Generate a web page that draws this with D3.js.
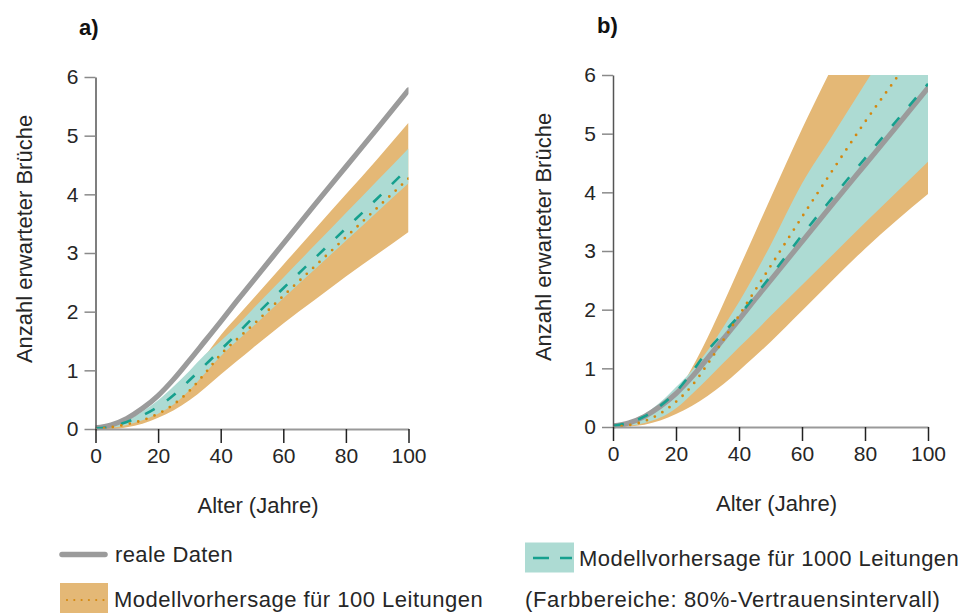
<!DOCTYPE html>
<html>
<head>
<meta charset="utf-8">
<script src="https://cdn.jsdelivr.net/npm/d3@7"></script>
<style>
  html, body { margin: 0; padding: 0; background: #fff; }
  svg { display: block; font-family: "Liberation Sans", Arial, sans-serif; }
</style>
</head>
<body>
<svg id="chart" width="965" height="613"></svg>
<script>
// ---------- data ----------
const ages = [0, 5, 10, 15, 20, 25, 30, 35, 40, 45, 50, 60, 70, 80, 90, 100];
const xTicks = [0, 20, 40, 60, 80, 100];
const yTicks = [0, 1, 2, 3, 4, 5, 6];

// real data (same in both panels)
const realData = [0.02, 0.07, 0.18, 0.35, 0.57, 0.85, 1.17, 1.5, 1.83, 2.17, 2.5, 3.16, 3.82, 4.47, 5.12, 5.78];

// panel a
const a1000Mean = [0.01, 0.04, 0.12, 0.23, 0.38, 0.58, 0.83, 1.09, 1.35, 1.61, 1.88, 2.4, 2.91, 3.42, 3.93, 4.45];
const a1000Lo   = [0, 0.02, 0.07, 0.15, 0.26, 0.42, 0.66, 0.95, 1.24, 1.49, 1.73, 2.23, 2.72, 3.21, 3.7, 4.19];
const a1000Hi   = [0.02, 0.06, 0.15, 0.3, 0.49, 0.73, 0.99, 1.27, 1.5, 1.75, 2.03, 2.58, 3.13, 3.68, 4.23, 4.78];
const a100Mean  = [0, 0.03, 0.08, 0.15, 0.26, 0.42, 0.65, 0.95, 1.27, 1.52, 1.76, 2.27, 2.77, 3.27, 3.77, 4.27];
const a100Lo    = [0, 0, 0.03, 0.09, 0.19, 0.32, 0.49, 0.7, 0.93, 1.15, 1.37, 1.8, 2.2, 2.6, 2.98, 3.36];
const a100Hi    = [0.01, 0.04, 0.12, 0.25, 0.44, 0.68, 0.95, 1.25, 1.6, 1.9, 2.2, 2.8, 3.4, 4.0, 4.6, 5.22];

// panel b
const b1000Mean = [0.02, 0.07, 0.18, 0.36, 0.6, 0.93, 1.3, 1.6, 1.9, 2.23, 2.57, 3.27, 3.93, 4.58, 5.22, 5.85];
const b1000Lo   = [0, 0.02, 0.07, 0.16, 0.32, 0.56, 0.82, 1.09, 1.36, 1.62, 1.89, 2.42, 2.95, 3.48, 4.0, 4.52];
const b1000Hi   = [0.03, 0.09, 0.22, 0.42, 0.68, 0.96, 1.3, 1.7, 2.13, 2.6, 3.1, 4.15, 5.0, 5.85, 6.7, 7.5];
const b100Mean  = [0, 0.03, 0.1, 0.23, 0.43, 0.7, 1.07, 1.48, 1.9, 2.32, 2.74, 3.58, 4.4, 5.2, 5.95, 6.7];
const b100Lo    = [0, 0.01, 0.04, 0.11, 0.22, 0.36, 0.53, 0.73, 0.96, 1.2, 1.45, 1.98, 2.52, 3.04, 3.52, 3.97];
const b100Hi    = [0.02, 0.06, 0.16, 0.32, 0.56, 1.0, 1.52, 2.1, 2.7, 3.3, 3.9, 5.08, 6.18, 7.25, 8.25, 9.2];

const panelLabels = ["a)", "b)"];
const xTitle = "Alter (Jahre)";
const yTitle = "Anzahl erwarteter Brüche";
const legendTexts = ["reale Daten", "Modellvorhersage für 100 Leitungen",
                     "Modellvorhersage für 1000 Leitungen", "(Farbbereiche: 80%-Vertrauensintervall)"];

// ---------- styles ----------
const C = {
  orange: "#E4B876",
  teal: "#ADDBD3",
  gray: "#9B9B9B",
  dash: "#16A08E",
  dot: "#D4880F",
  text: "#262626"
};

const svg = d3.select("#chart");

const panels = [
  { id: "a", label: panelLabels[0], x0: 95.5, x1: 408.5, yTop: 77, yBot: 429, labelX: 79, labelY: 35,
    ytX: 32, real: realData, m1000: a1000Mean, lo1000: a1000Lo, hi1000: a1000Hi,
    m100: a100Mean, lo100: a100Lo, hi100: a100Hi },
  { id: "b", label: panelLabels[1], x0: 613, x1: 928, yTop: 75, yBot: 427, labelX: 597, labelY: 33,
    ytX: 551, real: realData, m1000: b1000Mean, lo1000: b1000Lo, hi1000: b1000Hi,
    m100: b100Mean, lo100: b100Lo, hi100: b100Hi }
];

panels.forEach(p => {
  const x = d3.scaleLinear().domain([0, 100]).range([p.x0, p.x1]);
  const y = d3.scaleLinear().domain([0, 6]).range([p.yBot, p.yTop]);
  const g = svg.append("g");

  g.append("clipPath").attr("id", "clip-" + p.id)
    .append("rect")
    .attr("x", x(0)).attr("y", y(6))
    .attr("width", x(100) - x(0)).attr("height", y(0) - y(6) + 10);

  const plot = g.append("g").attr("clip-path", `url(#clip-${p.id})`);

  const area = (lo, hi) => d3.area()
    .x((d, i) => x(ages[i]))
    .y0((d, i) => y(lo[i]))
    .y1((d, i) => y(hi[i]))
    .curve(d3.curveMonotoneX)(ages);

  const line = (vals) => d3.line()
    .x((d, i) => x(ages[i]))
    .y((d, i) => y(vals[i]))
    .curve(d3.curveMonotoneX)(ages);

  plot.append("path").attr("d", area(p.lo100, p.hi100)).attr("fill", C.orange);
  plot.append("path").attr("d", area(p.lo1000, p.hi1000)).attr("fill", C.teal);

  plot.append("path").attr("d", line(p.real))
    .attr("fill", "none").attr("stroke", C.gray).attr("stroke-width", 5.2)
    .attr("stroke-linecap", "round");

  plot.append("path").attr("d", line(p.m1000))
    .attr("fill", "none").attr("stroke", C.dash).attr("stroke-width", 2.6)
    .attr("stroke-dasharray", "11,15");

  plot.append("path").attr("d", line(p.m100))
    .attr("fill", "none").attr("stroke", C.dot).attr("stroke-width", 2.8)
    .attr("stroke-linecap", "round")
    .attr("stroke-dasharray", "0,8.7");

  // y axis
  const yAx = g.append("g").attr("transform", `translate(${x(0)},0)`)
    .call(d3.axisLeft(y).tickValues(yTicks).tickFormat(d3.format("d"))
      .tickSize(11).tickSizeOuter(0).tickPadding(6));
  yAx.select(".domain").attr("stroke", "#555").attr("stroke-width", 1.5);
  yAx.selectAll(".tick line").attr("stroke", "#8a8a8a").attr("stroke-width", 1.5);
  yAx.selectAll(".tick text").attr("fill", C.text).style("font-size", "21px")
    .style("font-family", "'Liberation Sans', Arial, sans-serif");

  // x axis
  const xAx = g.append("g").attr("transform", `translate(0,${y(0)})`)
    .call(d3.axisBottom(x).tickValues(xTicks).tickFormat(d3.format("d"))
      .tickSize(14).tickSizeOuter(0).tickPadding(5));
  xAx.select(".domain").attr("stroke", "#999").attr("stroke-width", 2);
  xAx.selectAll(".tick line").attr("stroke", "#222").attr("stroke-width", 1.5);
  xAx.selectAll(".tick text").attr("fill", C.text).style("font-size", "21px")
    .style("font-family", "'Liberation Sans', Arial, sans-serif");

  // titles
  g.append("text").attr("x", (p.x0 + p.x1) / 2 + 6).attr("y", p.yBot + 84)
    .attr("text-anchor", "middle").attr("fill", C.text).style("font-size", "22px")
    .text(xTitle);
  g.append("text")
    .attr("transform", `translate(${p.ytX},${(p.yTop + p.yBot) / 2 - 14}) rotate(-90)`)
    .attr("text-anchor", "middle").attr("fill", C.text).style("font-size", "22px")
    .text(yTitle);
  g.append("text").attr("x", p.labelX).attr("y", p.labelY)
    .attr("fill", "#111").style("font-size", "22px").style("font-weight", "bold")
    .text(p.label);
});

// ---------- legend ----------
const lg = svg.append("g");
// real data
lg.append("line").attr("x1", 62).attr("x2", 105).attr("y1", 554.5).attr("y2", 554.5)
  .attr("stroke", C.gray).attr("stroke-width", 5.5).attr("stroke-linecap", "round");
lg.append("text").attr("x", 115).attr("y", 562).attr("fill", C.text)
  .style("font-size", "22px").style("letter-spacing", "0.4px").text(legendTexts[0]);
// 100 lines
lg.append("rect").attr("x", 60).attr("y", 583).attr("width", 48).attr("height", 30).attr("fill", C.orange);
lg.append("line").attr("x1", 67).attr("x2", 104).attr("y1", 600).attr("y2", 600)
  .attr("stroke", C.dot).attr("stroke-width", 2.2).attr("stroke-linecap", "round")
  .attr("stroke-dasharray", "0,7.3");
lg.append("text").attr("x", 114).attr("y", 607).attr("fill", C.text)
  .style("font-size", "22px").style("letter-spacing", "0.5px").text(legendTexts[1]);
// 1000 lines
lg.append("rect").attr("x", 525).attr("y", 542.5).attr("width", 49).attr("height", 30).attr("fill", C.teal);
lg.append("line").attr("x1", 533).attr("x2", 572).attr("y1", 558).attr("y2", 558)
  .attr("stroke", C.dash).attr("stroke-width", 2.6)
  .attr("stroke-dasharray", "16,11");
lg.append("text").attr("x", 579).attr("y", 566).attr("fill", C.text)
  .style("font-size", "22px").style("letter-spacing", "0.45px").text(legendTexts[2]);
lg.append("text").attr("x", 525).attr("y", 607).attr("fill", C.text)
  .style("font-size", "22px").style("letter-spacing", "0.65px").text(legendTexts[3]);
</script>
</body>
</html>
